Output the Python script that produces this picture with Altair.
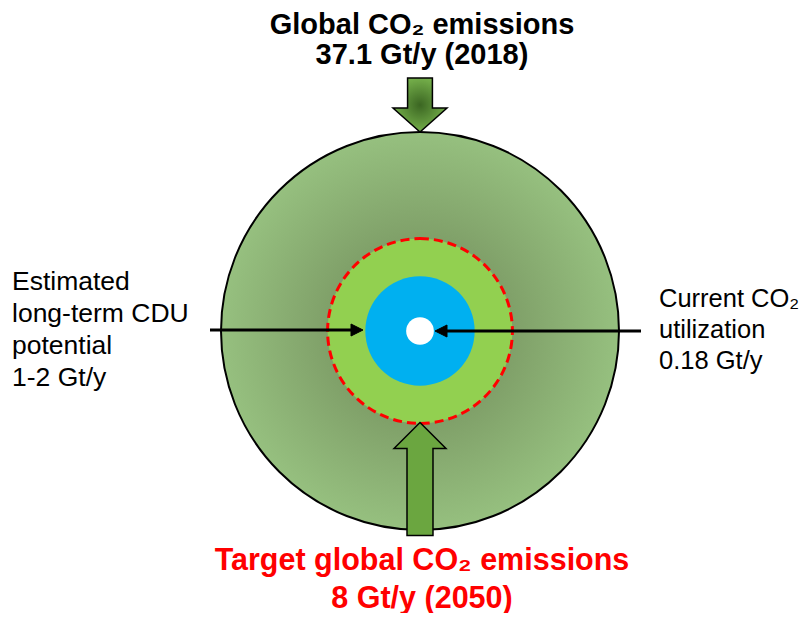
import math
import altair as alt
import pandas as pd

# ---- values (Gt CO2 per year) ----
RING_KEYS = ["global", "target", "cdu", "current"]
RING_VALUES = [37.1, 8.0, 2.8, 0.18]   # drawn ring sizes (area ~ value)

TOP_LABEL = ["Global CO₂ emissions", "37.1 Gt/y (2018)"]
BOTTOM_LABEL = ["Target global CO₂ emissions", "8 Gt/y (2050)"]
LEFT_LABEL = ["Estimated", "long-term CDU", "potential", "1-2 Gt/y"]
RIGHT_LABEL = ["Current CO₂", "utilization", "0.18 Gt/y"]

rings = pd.DataFrame({"key": RING_KEYS, "value": RING_VALUES})
one = pd.DataFrame({"k": [0]})

FONT = "Liberation Sans"
CX, CY = 412, 323  # centre of the target (chart px)

rscale = alt.Scale(type="sqrt", domain=[0, 37.1], range=[0, 199], zero=True)


def ring(key, **mark):
    return (
        alt.Chart(rings)
        .transform_filter(alt.datum.key == key)
        .mark_arc(theta=0, theta2=2 * math.pi, **mark)
        .encode(
            x=alt.value(CX),
            y=alt.value(CY),
            radius=alt.Radius("value:Q", scale=rscale),
        )
    )


big_grad = {
    "gradient": "radial",
    "x1": 0.5, "y1": 0.5, "r1": 0,
    "x2": 0.5, "y2": 0.5, "r2": 0.5,
    "stops": [
        {"offset": 0, "color": "#6c8455"},
        {"offset": 1, "color": "#96c07f"},
    ],
}
arrow_grad = {
    "gradient": "radial",
    "x1": 0.5, "y1": 0.5, "r1": 0,
    "x2": 0.5, "y2": 0.5, "r2": 0.5,
    "stops": [
        {"offset": 0, "color": "#3b6622"},
        {"offset": 1, "color": "#74ae4a"},
    ],
}

big = ring("global", fill=big_grad, stroke="black", strokeWidth=2)
target = ring("target", fill="#92d050", stroke="#ff0000", strokeWidth=3, strokeDash=[9, 5])
cdu = ring("cdu", fill="#00b0f0")
current = ring("current", fill="#ffffff")

DOWN_ARROW = "M -0.46 -1 L 0.46 -1 L 0.46 0.11 L 1 0.11 L 0 1 L -1 0.11 L -0.46 0.11 Z"
UP_ARROW = "M 0 -1 L 0.46 -0.54 L 0.23 -0.54 L 0.23 1 L -0.23 1 L -0.23 -0.54 L -0.46 -0.54 Z"
RIGHT_HEAD = "M -1 -1 L 1 0 L -1 1 Z"
LEFT_HEAD = "M 1 -1 L -1 0 L 1 1 Z"

top_arrow = alt.Chart(one).mark_point(
    shape=DOWN_ARROW, size=2916, filled=True, fill=arrow_grad,
    stroke="black", strokeWidth=1.5, opacity=1,
).encode(x=alt.value(412), y=alt.value(97))

bottom_arrow = alt.Chart(one).mark_point(
    shape=UP_ARROW, size=12769, filled=True, fill="#6ba640",
    stroke="black", strokeWidth=1.5, opacity=1,
).encode(x=alt.value(412), y=alt.value(471))

left_line = alt.Chart(one).mark_rule(color="black", strokeWidth=3).encode(
    x=alt.value(202), x2=alt.value(347), y=alt.value(322)
)
left_head = alt.Chart(one).mark_point(
    shape=RIGHT_HEAD, size=144, filled=True, fill="black", stroke="black",
    strokeWidth=1, opacity=1,
).encode(x=alt.value(349), y=alt.value(322))

right_line = alt.Chart(one).mark_rule(color="black", strokeWidth=3).encode(
    x=alt.value(431), x2=alt.value(633), y=alt.value(323)
)
right_head = alt.Chart(one).mark_point(
    shape=LEFT_HEAD, size=144, filled=True, fill="black", stroke="black",
    strokeWidth=1, opacity=1,
).encode(x=alt.value(433), y=alt.value(323))


def label(lines, x, y, size, align, color="black", weight="normal", lh=32):
    return alt.Chart(one).mark_text(
        font=FONT, fontSize=size, fontWeight=weight, align=align,
        baseline="alphabetic", lineHeight=lh, color=color,
    ).encode(x=alt.value(x), y=alt.value(y), text=alt.value(lines))


top_text = label(TOP_LABEL, 414, 26, 29, "center", weight="bold", lh=30)
bottom_text = label(BOTTOM_LABEL, 414, 562, 30.5, "center", color="#ff0000", weight="bold", lh=38)
left_text = label(LEFT_LABEL, 4, 282, 26.5, "left", lh=32)
right_text = label(RIGHT_LABEL, 651, 299, 25.5, "left", lh=31)

chart = (
    alt.layer(
        big, target, cdu, current,
        top_arrow, bottom_arrow,
        left_line, left_head, right_line, right_head,
        top_text, bottom_text, left_text, right_text,
    )
    .properties(width=796, height=605, padding=0, autosize="none")
    .configure_view(stroke=None)
)

chart.save("out.html", embed_options={"renderer": "svg", "actions": False})
